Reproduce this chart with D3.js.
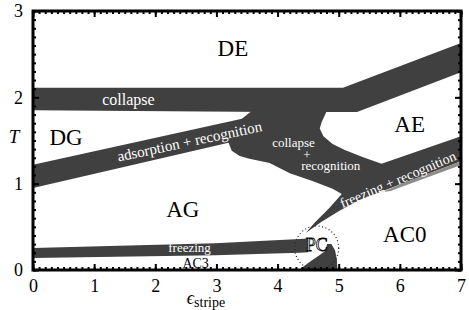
<!DOCTYPE html>
<html>
<head>
<meta charset="utf-8">
<script src="https://cdn.jsdelivr.net/npm/d3@7"></script>
<style>
  body { margin: 0; background: #fff; }
  text { font-family: "Liberation Serif", "DejaVu Serif", serif; }
</style>
</head>
<body>
<div class="chart"></div>
<script>
var svgWidth = 469;
var svgHeight = 310;

// axis ticks
var xMajor = [0, 1, 2, 3, 4, 5, 6, 7];
var yMajor = [0, 1, 2, 3];

// phase boundary bands, [epsilon, T]
var collapseBand = [[0, 2.11], [5.07, 2.11], [7, 2.63], [7, 2.29], [5.3, 1.83], [3.9, 1.83], [0, 1.85]];
var adsorptionBand = [[0, 1.22], [3.92, 1.83], [4.5, 1.95], [4.5, 1.6], [3.18, 1.47], [0, 0.95]];
var recognitionRegion = [
  [3.18, 1.51], [3.25, 1.38], [3.38, 1.32], [3.54, 1.29], [3.87, 1.24], [4.2, 1.12],
  [4.57, 1.03], [4.9, 0.94], [5.05, 0.88], [4.85, 0.72], [4.61, 0.55], [4.46, 0.43],
  [4.72, 0.56], [5.02, 0.69], [5.34, 0.81], [6.0, 0.99], [7, 1.26], [7, 1.55],
  [5.7, 1.23], [5.39, 1.31], [5.1, 1.39], [4.9, 1.46], [4.75, 1.55], [4.69, 1.64],
  [4.72, 1.71], [4.85, 1.91], [3.7, 1.91], [3.18, 1.62]
];
var recognitionEdge = [[5.7, 0.9], [6.0, 0.99], [7, 1.26], [7, 1.215], [6.0, 0.955], [5.85, 0.915]];
var freezingBand = [[0, 0.255], [2.98, 0.31], [4.36, 0.36], [4.5, 0.365], [4.5, 0.205], [4.36, 0.2], [2.98, 0.17], [0, 0.14]];
var pcCrescent = [[4.35, 0], [4.5, 0.08], [4.66, 0.16], [4.78, 0.22], [4.81, 0.3], [4.88, 0.3], [4.94, 0.23], [4.97, 0.12], [4.98, 0]];
var pcPoint = [4.64, 0.255];

// labels: text, epsilon, T
var regionLabels = [["DE", 3.27, 2.57], ["DG", 0.54, 1.53], ["AE", 6.16, 1.68], ["AG", 2.45, 0.7], ["AC0", 6.08, 0.41]];
var bandLabels = [
  ["collapse", 1.56, 1.98, 0, 16],
  ["adsorption + recognition", 2.56, 1.49, -12, 15],
  ["collapse", 4.26, 1.48, 0, 13],
  ["+", 4.48, 1.34, 0, 13],
  ["recognition", 4.87, 1.21, 0, 13],
  ["freezing + recognition", 5.97, 1.045, -23, 14],
  ["freezing", 2.56, 0.255, 0, 13]
];

var svg = d3.select(".chart")
  .append("svg")
  .attr("width", svgWidth)
  .attr("height", svgHeight);

var x = d3.scaleLinear().domain([0, 7]).range([33, 461]);
var y = d3.scaleLinear().domain([0, 3]).range([270, 11]);

var line = d3.line()
  .x(d => x(d[0]))
  .y(d => y(d[1]));

var dark = "#404040";
var serif = "'Liberation Serif', 'DejaVu Serif', serif";

svg.append("defs").append("clipPath")
  .attr("id", "plot")
  .append("rect")
  .attr("x", x(0)).attr("y", y(3))
  .attr("width", x(7) - x(0)).attr("height", y(0) - y(3));

var plot = svg.append("g").attr("clip-path", "url(#plot)");

[collapseBand, adsorptionBand, recognitionRegion, freezingBand, pcCrescent].forEach(function (band) {
  plot.append("path")
    .attr("d", line(band) + "Z")
    .attr("fill", dark);
});

plot.append("path")
  .attr("d", line(recognitionEdge) + "Z")
  .attr("fill", "#8c8c8c");

// band labels
bandLabels.forEach(function (d) {
  plot.append("text")
    .attr("transform", `translate(${x(d[1])}, ${y(d[2])}) rotate(${d[3]})`)
    .attr("text-anchor", "middle")
    .attr("dominant-baseline", "central")
    .attr("fill", "#fff")
    .attr("font-family", serif)
    .style("font-size", d[4] + "px")
    .text(d[0]);
});

// region labels
regionLabels.forEach(function (d) {
  svg.append("text")
    .attr("x", x(d[1]))
    .attr("y", y(d[2]))
    .attr("text-anchor", "middle")
    .attr("dominant-baseline", "central")
    .attr("font-family", serif)
    .style("font-size", "23px")
    .text(d[0]);
});

plot.append("text")
  .attr("x", x(2.66))
  .attr("y", y(0.08))
  .attr("text-anchor", "middle")
  .attr("dominant-baseline", "central")
  .attr("font-family", serif)
  .style("font-size", "14px")
  .text("AC3");

// PC point
plot.append("circle")
  .attr("cx", x(pcPoint[0]))
  .attr("cy", y(pcPoint[1]))
  .attr("r", 22)
  .attr("fill", "none")
  .attr("stroke", "#222")
  .attr("stroke-width", 1.2)
  .attr("stroke-dasharray", "1,2.5");

plot.append("text")
  .attr("x", x(pcPoint[0]))
  .attr("y", y(pcPoint[1]) - 3)
  .attr("text-anchor", "middle")
  .attr("dominant-baseline", "central")
  .attr("fill", "#fff")
  .attr("stroke", "#000")
  .attr("stroke-width", 0.8)
  .attr("font-family", serif)
  .style("font-size", "18px")
  .text("PC");

// ticks on all four sides
var minor = d3.range(0, 70.5).map(d => d / 10);
var minorY = d3.range(0, 30.5).map(d => d / 10);

function tickGroup(axis, transform) {
  var g = svg.append("g").attr("transform", transform).call(axis);
  g.attr("font-family", serif);
  g.select(".domain").remove();
  g.selectAll("line").attr("stroke", "#000").attr("stroke-width", 2);
  return g;
}

tickGroup(d3.axisBottom(x).tickValues(minor).tickSize(-3).tickFormat(""), `translate(0, ${y(0)})`);
tickGroup(d3.axisTop(x).tickValues(minor).tickSize(-3).tickFormat(""), `translate(0, ${y(3)})`);
tickGroup(d3.axisLeft(y).tickValues(minorY).tickSize(-3).tickFormat(""), `translate(${x(0)}, 0)`);
tickGroup(d3.axisRight(y).tickValues(minorY).tickSize(-3).tickFormat(""), `translate(${x(7)}, 0)`);

tickGroup(d3.axisBottom(x).tickValues(xMajor).tickSize(-6).tickPadding(9).tickFormat(d3.format("d")), `translate(0, ${y(0)})`);
tickGroup(d3.axisTop(x).tickValues(xMajor).tickSize(-6).tickFormat(""), `translate(0, ${y(3)})`);
tickGroup(d3.axisLeft(y).tickValues(yMajor).tickSize(-6).tickPadding(10).tickFormat(d3.format("d")), `translate(${x(0)}, 0)`);
tickGroup(d3.axisRight(y).tickValues(yMajor).tickSize(-6).tickFormat(""), `translate(${x(7)}, 0)`);

svg.selectAll(".tick text")
  .attr("fill", "#000")
  .attr("font-family", serif)
  .style("font-size", "18px");

// frame
svg.append("rect")
  .attr("x", x(0)).attr("y", y(3))
  .attr("width", x(7) - x(0)).attr("height", y(0) - y(3))
  .attr("fill", "none")
  .attr("stroke", "#000")
  .attr("stroke-width", 3);

// axis titles
svg.append("text")
  .attr("x", 14)
  .attr("y", y(1.55))
  .attr("text-anchor", "middle")
  .attr("dominant-baseline", "central")
  .attr("font-family", serif)
  .style("font-size", "19px")
  .style("font-style", "italic")
  .text("T");

var xLabel = svg.append("text")
  .attr("x", 206)
  .attr("y", 304)
  .attr("text-anchor", "middle")
  .attr("font-family", serif)
  .style("font-size", "18px");
xLabel.append("tspan").style("font-style", "italic").text("ϵ");
xLabel.append("tspan").attr("dy", 3).style("font-size", "14px").text("stripe");
</script>
</body>
</html>
